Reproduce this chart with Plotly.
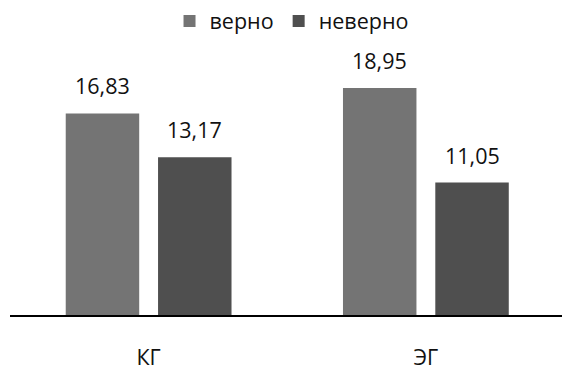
import plotly.graph_objects as go

# Categories and values
groups = ["КГ", "ЭГ"]
series_names = ["верно", "неверно"]
correct = [16.83, 18.95]
incorrect = [13.17, 11.05]
series_values = [correct, incorrect]
series_colors = ["#747474", "#4f4f4f"]

# Bar geometry in category units (category spacing = 1)
bar_w = 0.265
bar_gap = 0.068
group_w = 2 * bar_w + bar_gap
offsets = [-group_w / 2, -group_w / 2 + bar_w + bar_gap]

FONT = "Open Sans"
FSIZE = 21.5
x_pos = list(range(len(groups)))


def fmt(v):
    return f"{v:.2f}".replace(".", ",")


fig = go.Figure()
annotations = []
for name, vals, color, off in zip(series_names, series_values, series_colors, offsets):
    fig.add_trace(go.Bar(
        name=name,
        x=x_pos,
        y=vals,
        width=bar_w,
        offset=off,
        marker=dict(color=color, line=dict(width=0)),
        hoverinfo="skip",
    ))
    for xi, v in zip(x_pos, vals):
        annotations.append(dict(
            x=xi + off + bar_w / 2, y=v, xref="x", yref="y",
            text=fmt(v), showarrow=False, yanchor="bottom", yshift=11,
            font=dict(family=FONT, size=FSIZE, color="#111111"),
        ))

fig.update_layout(
    width=562, height=371,
    margin=dict(l=9.5, r=0, t=56, b=45, pad=0),
    paper_bgcolor="white", plot_bgcolor="white",
    barmode="overlay",
    showlegend=True,
    legend=dict(
        orientation="h", x=0.51, xanchor="center",
        yref="container", y=1 - 21 / 371, yanchor="middle",
        font=dict(family=FONT, size=FSIZE, color="#111111"),
        itemwidth=30, traceorder="normal",
    ),
    annotations=annotations,
    xaxis=dict(
        range=[-0.5, 1.491],
        tickvals=x_pos, ticktext=groups,
        showline=True, linecolor="#000000", linewidth=1.6,
        showgrid=False, zeroline=False,
        ticks="outside", ticklen=22, tickcolor="rgba(0,0,0,0)",
        tickfont=dict(family=FONT, size=FSIZE, color="#111111"),
    ),
    yaxis=dict(
        range=[0, 21.62],
        visible=False, showgrid=False, zeroline=False,
    ),
)

fig.write_html("out.html")
